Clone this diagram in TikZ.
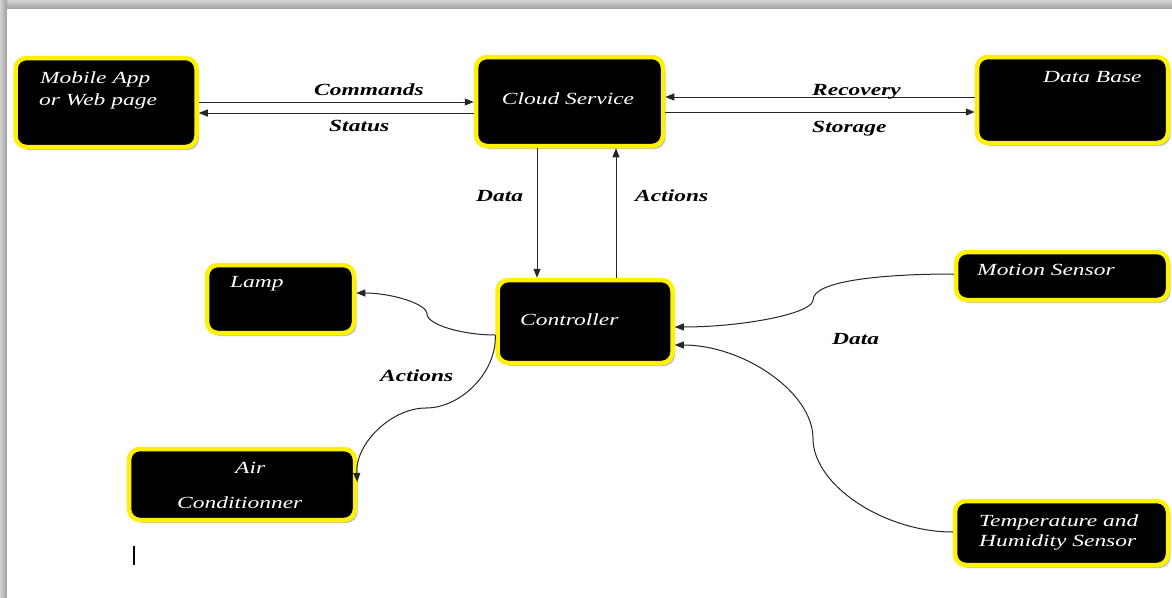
\documentclass[tikz,border=0pt]{standalone}
\usepackage{fontspec}
\setmainfont{Liberation Serif}
\newfontfamily\stretchfont[FakeStretch=1.38]{Liberation Serif}
\usetikzlibrary{arrows.meta,shadows}
\begin{document}
\begin{tikzpicture}[x=1pt,y=-1pt,
  box/.style={draw=yellow, line width=4.5pt, fill=black, rounded corners=11pt,
    inner sep=0pt,
    drop shadow={shadow xshift=2.5pt, shadow yshift=-3pt, fill=gray!70, opacity=0.7}},
  ntext/.style={text=white, inner sep=0pt,
    font=\stretchfont\itshape\fontsize{17}{20}\selectfont},
  elabel/.style={inner sep=0pt, anchor=base west,
    font=\stretchfont\bfseries\itshape\fontsize{17}{20}\selectfont},
  conn/.style={draw=black!85, line width=1pt, -{Triangle[length=9pt,width=7pt]}}
]
\useasboundingbox (0,0) rectangle (1172,597);
% page shadow
\shade[top color=gray!35, bottom color=gray!75] (0,0) rectangle (1172,9);
\shade[left color=gray!35, right color=gray!75] (0,0) rectangle (7,597);
\fill[white] (7,9) rectangle (1172,597);

% boxes
\node[box, minimum width=181pt, minimum height=89pt] (mobile) at (106,102.5) {};
\node[box, minimum width=187pt, minimum height=89pt] (cloud) at (569.5,101.5) {};
\node[box, minimum width=191pt, minimum height=86pt] (db) at (1072.5,100) {};
\node[box, minimum width=147pt, minimum height=68pt] (lamp) at (280.5,299) {};
\node[box, minimum width=175pt, minimum height=83pt] (ctrl) at (585,321.5) {};
\node[box, minimum width=212pt, minimum height=48pt] (motion) at (1062,276) {};
\node[box, minimum width=226pt, minimum height=71pt] (air) at (242,484.5) {};
\node[box, minimum width=213pt, minimum height=64pt] (temp) at (1061.5,533) {};

% box texts
\node[ntext, anchor=base west] (mobileA) at (40,83) {Mobile App};
\node[ntext, anchor=base west] (mobileB) at (39,105) {or Web page};
\node[ntext, anchor=base] (cloudT) at (568,104) {Cloud Service};
\node[ntext, anchor=base west] (dbT) at (1043,82) {Data Base};
\node[ntext, anchor=base west] (lampT) at (230,287) {Lamp};
\node[ntext, anchor=base west] (ctrlT) at (520,325) {Controller};
\node[ntext, anchor=base west] (motionT) at (977,275) {Motion Sensor};
\node[ntext, anchor=base west] (airA) at (235,473) {Air};
\node[ntext, anchor=base west] (airB) at (177,508) {Conditionner};
\node[ntext, anchor=base west] (tempA) at (979,526) {Temperature and};
\node[ntext, anchor=base west] (tempB) at (979,546) {Humidity Sensor};

% straight connectors
\draw[conn] (mobile.east |- 0,102) -- (cloud.west |- 0,102);
\draw[conn] (cloud.west |- 0,113) -- (mobile.east |- 0,113);
\draw[conn] (db.west |- 0,97) -- (cloud.east |- 0,97);
\draw[conn] (cloud.east |- 0,112) -- (db.west |- 0,112);
\draw[conn] (cloud.south -| 537,0) -- (ctrl.north -| 537,0);
\draw[conn] (ctrl.north -| 616,0) -- (cloud.south -| 616,0);

% curved connectors
\coordinate (cL) at (ctrl.west |- 0,335);
\coordinate (lampE) at (lamp.east |- 0,293);
\draw[conn] (cL) .. controls (462,335) and (427,324.5) .. (427,314)
  .. controls (427,303.5) and (390.5,293) .. (lampE);
\coordinate (airE) at (air.east |- 0,482);
\draw[conn] (cL) .. controls (497,372) and (461,408) .. (426,408)
  .. controls (391,408) and (355,444) .. (airE);
\coordinate (motW) at (motion.west |- 0,274);
\coordinate (cR1) at (ctrl.east |- 0,327);
\draw[conn] (motW) .. controls (884,274) and (813,280.5) .. (813,300)
  .. controls (813,313.5) and (743,327) .. (cR1);
\coordinate (tempW) at (temp.west |- 0,532);
\coordinate (cR2) at (ctrl.east |- 0,345);
\draw[conn] (tempW) .. controls (884,532) and (813,485) .. (813,438.5)
  .. controls (813,392) and (743,345) .. (cR2);

% edge labels
\node[elabel] (lCommands) at (314,95) {Commands};
\node[elabel] (lStatus) at (329,131) {Status};
\node[elabel] (lRecovery) at (812,95) {Recovery};
\node[elabel] (lStorage) at (812,132) {Storage};
\node[elabel] (lData1) at (476,201) {Data};
\node[elabel] (lActions1) at (635,201) {Actions};
\node[elabel] (lData2) at (832,344) {Data};
\node[elabel] (lActions2) at (380,381) {Actions};

% cursor bar
\draw[line width=1.5pt] (134,546) -- (134,565);
\end{tikzpicture}
\end{document}
